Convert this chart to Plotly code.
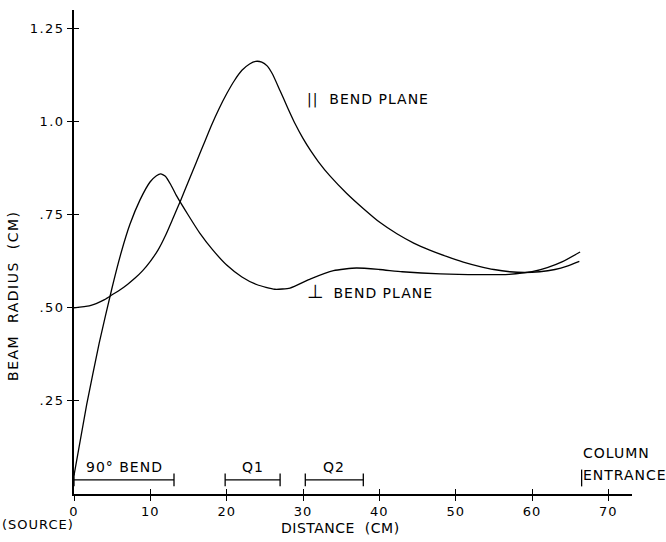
import plotly.graph_objects as go

# --- data ---
par_x = [0, 2, 4, 5, 6, 7, 8, 9, 10, 11, 12, 13, 14, 15, 16, 17, 18, 19, 20, 21, 22, 23, 23.8, 24.6, 25.3, 26, 27, 28, 29, 30, 31, 32, 33.5, 35.7, 38, 40.1, 42.3, 44.5, 46.6, 48.8, 51, 53.2, 55, 57.1, 59, 61, 63, 64.6, 66.2]
par_y = [0.50, 0.505, 0.522, 0.535, 0.548, 0.563, 0.58, 0.60, 0.625, 0.655, 0.695, 0.742, 0.79, 0.84, 0.89, 0.94, 0.99, 1.035, 1.075, 1.11, 1.138, 1.155, 1.162, 1.16, 1.15, 1.128, 1.083, 1.037, 0.993, 0.955, 0.922, 0.893, 0.855, 0.808, 0.765, 0.729, 0.699, 0.674, 0.655, 0.638, 0.623, 0.611, 0.603, 0.597, 0.595, 0.597, 0.603, 0.612, 0.625]

perp_x = [0, 1.66, 3.3, 4.94, 6.2, 7.34, 8.65, 9.96, 10.8, 11.36, 12.0, 12.7, 13.46, 15.0, 16.5, 18.2, 20, 22, 24, 26.3, 28.3, 31, 34, 37, 40, 43, 48, 53, 57, 60, 62, 64, 66.3]
perp_y = [0.05, 0.24, 0.405, 0.55, 0.65, 0.725, 0.79, 0.838, 0.855, 0.86, 0.853, 0.83, 0.80, 0.748, 0.70, 0.655, 0.615, 0.583, 0.562, 0.55, 0.553, 0.578, 0.600, 0.607, 0.603, 0.597, 0.591, 0.589, 0.590, 0.597, 0.608, 0.624, 0.65]

segments = [("90° BEND", 0, 13.1), ("Q1", 19.8, 27.0), ("Q2", 30.3, 37.9)]
column_entrance_x = 66.5

x_ticks = [0, 10, 20, 30, 40, 50, 60, 70]
x_ticktext = ["0", "10", "20", "30", "40", "50", "60", "70"]
y_ticks = [0.25, 0.50, 0.75, 1.0, 1.25]
y_ticktext = [".25", ".50", ".75", "1.0", "1.25"]

X_RANGE = [0, 73.1]
Y_RANGE = [0, 1.30]
SEG_Y = 0.038

FONT = "DejaVu Sans"
TXT = dict(family=FONT, size=14, color="black")


def sp(s, ls=1):
    return f"<span style='letter-spacing:{ls}px'>{s}</span>"


fig = go.Figure()

line_style = dict(color="black", width=1.3, shape="spline", smoothing=0.5)
fig.add_trace(go.Scatter(x=par_x, y=par_y, mode="lines", line=line_style, showlegend=False, hoverinfo="skip"))
fig.add_trace(go.Scatter(x=perp_x, y=perp_y, mode="lines", line=line_style, showlegend=False, hoverinfo="skip"))

for name, x0, x1 in segments:
    fig.add_trace(go.Scatter(x=[x0, x1], y=[SEG_Y, SEG_Y], mode="lines+markers",
                             line=dict(color="black", width=1.3),
                             marker=dict(symbol="line-ns", size=9, line=dict(color="black", width=1.3)),
                             showlegend=False, hoverinfo="skip"))
    fig.add_annotation(x=(x0 + x1) / 2, y=SEG_Y, yshift=13, text=sp(name), showarrow=False, font=TXT)

fig.add_trace(go.Scatter(x=[column_entrance_x], y=[SEG_Y + 0.005], mode="markers",
                         marker=dict(symbol="line-ns", size=12, line=dict(color="black", width=1.3)),
                         showlegend=False, hoverinfo="skip"))
fig.add_annotation(x=column_entrance_x, y=SEG_Y + 0.005, xanchor="left", xshift=-1, yshift=3, text=sp("ENTRANCE"),
                   showarrow=False, font=TXT)
fig.add_annotation(x=column_entrance_x, y=SEG_Y + 0.005, xanchor="left", xshift=-1, yshift=25, text=sp("COLUMN"),
                   showarrow=False, font=TXT)

# dummy trace for overlaying axes (inner tick marks)
fig.add_trace(go.Scatter(x=[None], y=[None], xaxis="x2", yaxis="y2", showlegend=False, hoverinfo="skip"))

# curve labels
fig.add_annotation(x=30.2, y=1.06, xanchor="left", text=sp("||  BEND PLANE"), showarrow=False, font=TXT)
fig.add_annotation(x=30.3, y=0.545, xanchor="left",
                   text="<span style='font-size:19px'>⊥</span> " + sp(" BEND PLANE"),
                   showarrow=False, font=TXT)

# axis titles & source label
fig.add_annotation(x=0, y=0, xref="x", yref="y", xanchor="right", yanchor="top", xshift=2, yshift=-21,
                   text=sp("(SOURCE)", 1), showarrow=False, font=dict(family=FONT, size=13, color="black"))
fig.add_annotation(x=34.9, y=0, xref="x", yref="y", yanchor="top", yshift=-24,
                   text=sp("DISTANCE  (CM)", 0.5), showarrow=False, font=TXT)
fig.add_annotation(x=0, y=0.532, xref="x", yref="y", xanchor="center", xshift=-61,
                   text=sp("BEAM  RADIUS  (CM)", 1.5), textangle=-90, showarrow=False, font=TXT)

common_axis = dict(showgrid=False, zeroline=False, ticklen=5, tickwidth=1.2, tickcolor="black",
                   automargin=False)
fig.update_layout(
    width=666, height=542,
    margin=dict(l=74, r=34, t=10, b=48, autoexpand=False),
    paper_bgcolor="white", plot_bgcolor="white",
    font=dict(family=FONT, size=13, color="black"),
    xaxis=dict(range=X_RANGE, tickvals=x_ticks, ticktext=[sp(t) for t in x_ticktext], ticks="outside",
               showline=True, linecolor="black", linewidth=1.5, **common_axis),
    yaxis=dict(range=Y_RANGE, tickvals=y_ticks, ticktext=[sp(t, 1.5) for t in y_ticktext], ticks="outside",
               showline=True, linecolor="black", linewidth=1.5, **common_axis),
    xaxis2=dict(range=X_RANGE, overlaying="x", anchor="y2", side="bottom", tickvals=x_ticks,
                ticks="inside", showticklabels=False, showline=False, **common_axis),
    yaxis2=dict(range=Y_RANGE, overlaying="y", anchor="x2", side="left", tickvals=y_ticks,
                ticks="inside", showticklabels=False, showline=False, **common_axis),
)

fig.write_html("out.html", config={"displayModeBar": False},
               post_script="document.body.style.margin='0';")
